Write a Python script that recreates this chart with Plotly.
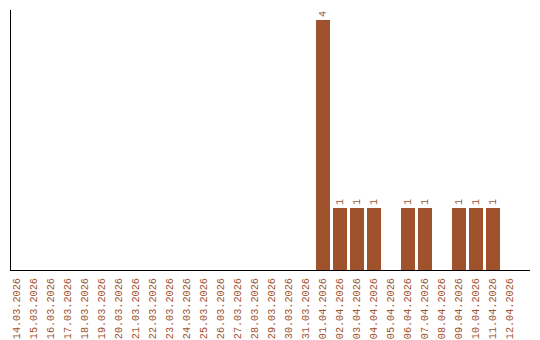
import plotly.graph_objects as go

dates = ["14.03.2026", "15.03.2026", "16.03.2026", "17.03.2026", "18.03.2026",
         "19.03.2026", "20.03.2026", "21.03.2026", "22.03.2026", "23.03.2026",
         "24.03.2026", "25.03.2026", "26.03.2026", "27.03.2026", "28.03.2026",
         "29.03.2026", "30.03.2026", "31.03.2026", "01.04.2026", "02.04.2026",
         "03.04.2026", "04.04.2026", "05.04.2026", "06.04.2026", "07.04.2026",
         "08.04.2026", "09.04.2026", "10.04.2026", "11.04.2026", "12.04.2026"]
counts = [0, 0, 0, 0, 0, 0, 0, 0, 0, 0, 0, 0, 0, 0, 0, 0, 0, 0,
          4, 1, 1, 1, 0, 1, 1, 0, 1, 1, 1, 0]

color = "#A0522D"
font = "Liberation Mono"

labels = [str(v) if v > 0 else "" for v in counts]

fig = go.Figure(go.Bar(
    x=list(range(len(dates))), y=counts, width=0.82,
    marker=dict(color=color, line=dict(width=0)),
    text=labels, textposition="outside", textangle=-90,
    textfont=dict(family=font, size=10, color=color),
    cliponaxis=False,
))

fig.update_layout(
    width=540, height=340,
    margin=dict(l=11, r=10, t=10, b=70, autoexpand=False),
    paper_bgcolor="white", plot_bgcolor="white",
    showlegend=False,
    bargap=0,
    uniformtext=dict(minsize=10, mode="show"),
)
fig.update_xaxes(
    tickmode="array", tickvals=list(range(len(dates))), ticktext=dates,
    tickangle=-90, tickfont=dict(family=font, size=10.2, color=color),
    range=[-0.353, 30.18], showgrid=False, zeroline=False, automargin=False,
    showline=True, linecolor="black", linewidth=1,
    ticks="outside", ticklen=3, tickcolor="rgba(0,0,0,0)",
)
fig.update_yaxes(
    range=[0, 4.16], showgrid=False, zeroline=False, showticklabels=False,
    showline=True, linecolor="black", linewidth=1, ticks="", automargin=False,
)

fig.write_html("out.html")
